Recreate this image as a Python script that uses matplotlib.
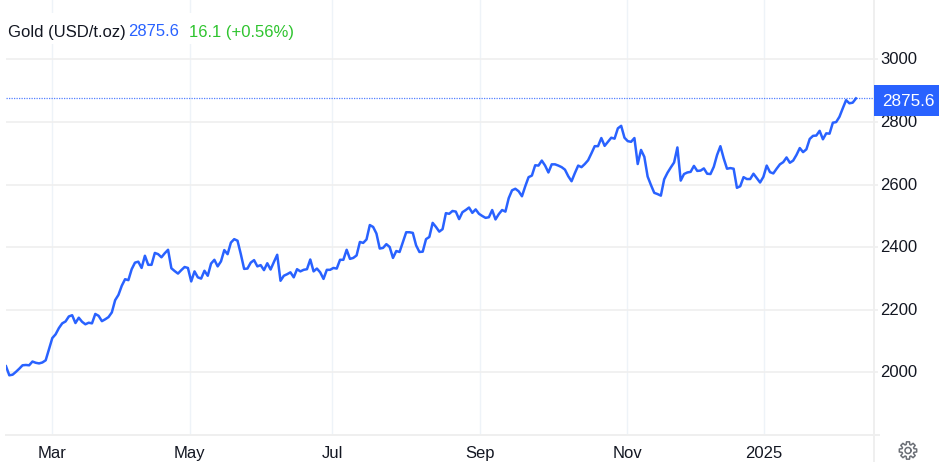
import numpy as np
import matplotlib
matplotlib.use("Agg")
import matplotlib.pyplot as plt
from matplotlib.patches import Rectangle, Polygon
from matplotlib.lines import Line2D
from matplotlib.transforms import ScaledTranslation

plt.rcParams['font.family'] = ['Liberation Sans', 'DejaVu Sans']

prices = [
 2020,1991,1993,2002,2012,2023,2024,2023,2035,2031,2029,2032,2039,
 2075,2110,2122,2142,2157,2163,2179,2183,2158,2175,2162,2154,2159,2157,2187,2181,2164,
 2170,2177,2192,2231,2248,2277,2298,2295,2330,2351,
 2354,2334,2373,2344,2344,2382,2378,2368,2381,2392,2333,2324,2316,2327,2337,2334,2291,
 2323,2304,2300,2325,2309,2348,2360,2339,2355,2391,2378,2415,2426,2421,2378,2331,
 2332,2351,2359,2339,2343,2327,2349,2329,2353,2376,2293,2309,2314,2320,2304,2330,2323,
 2328,2330,2361,2323,2332,2320,2299,2328,2328,2334,2332,2360,2360,2392,2363,2366,2374,
 2417,2414,2425,2471,2465,2444,2396,2398,2410,2401,2366,2388,2385,2417,2448,2448,2446,
 2406,2385,2386,2426,2433,2478,2465,2450,2458,2509,2507,2516,2514,2490,2512,2519,2527,
 2510,2521,2507,2500,2494,2496,2519,2489,2506,2519,2514,
 2557,2582,2587,2579,2563,2595,2624,2629,2662,2661,2677,2661,2639,2665,2665,2661,2656,
 2648,2627,2611,2637,2661,2656,2666,2678,
 2700,2723,2723,2749,2724,2737,2750,2747,2780,2788,2750,2739,2737,2749,2666,2711,2689,
 2626,2599,2574,2570,2565,2617,2638,2655,2671,2719,2613,2634,2639,2641,2660,2644,2645,
 2652,2635,2634,2657,2695,2723,2684,2651,2653,2651,2590,2595,2624,2618,2618,2635,2621,
 2607,2625,2661,2640,2636,2651,2665,2672,2687,2670,2677,2695,2717,2704,2713,2746,2756,
 2757,2772,2745,2764,2763,2798,2800,2817,2844,2870,2860,2862,2875.6,
]
month_sessions = [13.9, 55.6, 98.6, 143.3, 187.8, 229.2]
month_labels = ['Mar', 'May', 'Jul', 'Sep', 'Nov', '2025']
price_ticks = [2000, 2200, 2400, 2600, 2800, 3000]
last_price = 2875.6
title = 'Gold (USD/t.oz)'
change = '16.1 (+0.56%)'

W, H = 939, 462
def fx(x): return x / W
def fy(y): return 1 - y / H

BLUE = '#2962ff'
GRID = '#efefef'
VGRID = '#eef3f8'
INK = '#131722'

fig = plt.figure(figsize=(W / 100, H / 100), dpi=100, facecolor='white')
AL, AR, AB = 6, 874, 435
ax = fig.add_axes([fx(AL), fy(AB), (AR - AL) / W, AB / H])

n = len(prices)
x = np.arange(n)
ax.plot(x, prices, color=BLUE, lw=1.8, solid_joinstyle='round', zorder=3)
ax.set_xlim(0, (n - 1) * (AR - AL) / 850)
ax.set_ylim(1800.3, 3190)

ax.set_xticks(month_sessions, month_labels)
ax.set_yticks(price_ticks, [str(p) for p in price_ticks])
ax.yaxis.tick_right()
ax.tick_params(axis='y', length=3, width=1.2, color=GRID, pad=1.6, labelsize=12, labelcolor=INK)
ax.tick_params(axis='x', length=0, pad=7.8, labelsize=12, labelcolor=INK)
up = ScaledTranslation(0, 1 / 100, fig.dpi_scale_trans)
for lab in ax.get_yticklabels():
    lab.set_transform(lab.get_transform() + up)
ax.grid(axis='y', color=GRID, lw=1.2, zorder=1)
ax.grid(axis='x', color=VGRID, lw=1.0, zorder=1)
ax.set_axisbelow(True)
for s in ('top', 'left'):
    ax.spines[s].set_visible(False)
for s in ('right', 'bottom'):
    ax.spines[s].set_color(GRID)
    ax.spines[s].set_linewidth(1.4)

ax.axhline(last_price, color=BLUE, lw=0.9, ls=(0, (1, 1)), alpha=0.8, zorder=2)

# extension of the price axis below the plot
fig.add_artist(Line2D([fx(AR)] * 2, [fy(437), 0], color=GRID, lw=1.4))
fig.add_artist(Line2D([fx(AR), fx(879)], [fy(AB)] * 2, color=GRID, lw=1.4))

# header
fig.add_artist(Rectangle((0, fy(44)), fx(300), 31 / H, transform=fig.transFigure,
                         facecolor='white', edgecolor='none', zorder=4))
for xp, s, c in [(8, title, INK), (128, f'{last_price}', BLUE), (189, change, '#2fc42f')]:
    fig.text(fx(xp), fy(32), s, color=c, fontsize=12, va='center', ha='left', zorder=5)

# last-price tag
fig.add_artist(Rectangle((fx(874), fy(115.5)), fx(65), 30 / H, transform=fig.transFigure,
                         facecolor=BLUE, edgecolor='none', zorder=4))
fig.text(fx(908), fy(101.5), f'{last_price}', color='white', fontsize=12.3,
         ha='center', va='center', zorder=5)

# settings icon
cx, cy = 908, 450.5
ang = np.linspace(0, 2 * np.pi, 8, endpoint=False)
pts = []
for a in ang:
    for da, r in [(-0.30, 6.2), (-0.17, 8.8), (0.17, 8.8), (0.30, 6.2)]:
        pts.append((fx(cx + r * np.cos(a + da)), fy(cy + r * np.sin(a + da))))
fig.add_artist(Polygon(pts, closed=True, fill=False, edgecolor='#6b6f76', lw=1.1,
                       transform=fig.transFigure, joinstyle='round'))
t = np.linspace(0, 2 * np.pi, 40)
fig.add_artist(Line2D(fx(cx + 3 * np.cos(t)), fy(cy + 3 * np.sin(t)), color='#6b6f76', lw=1.1))

fig.savefig('out.png', dpi=100)
